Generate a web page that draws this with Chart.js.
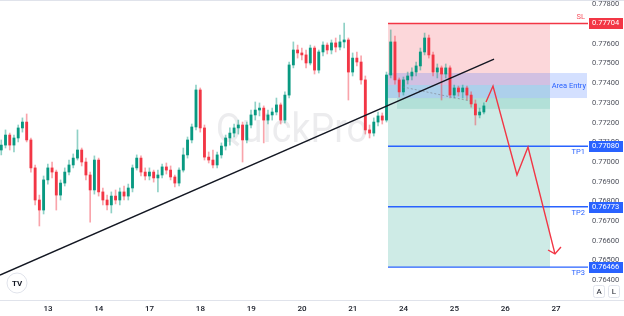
<!DOCTYPE html>
<html>
<head>
<meta charset="utf-8">
<script src="https://cdn.jsdelivr.net/npm/chart.js@4.4.1/dist/chart.umd.min.js"></script>
<style>
  html, body { margin: 0; padding: 0; background: #fff; }
</style>
</head>
<body>
<canvas id="priceChart" width="624" height="316"></canvas>
<script>
// x axis: trading days, one unit per day
const dayLabels = ['13', '14', '17', '18', '19', '20', '21', '24', '25', '26', '27'];
const firstCandleDay = -0.92;
const candlesPerDay = 12;

const opens = [
  0.77061, 0.77086, 0.77137, 0.77086, 0.77122, 0.77173, 0.77203, 0.77112, 0.76970, 0.76807,
  0.76756, 0.76909, 0.76970, 0.76949, 0.76832, 0.76893, 0.76949, 0.76985, 0.77020, 0.77061,
  0.77000, 0.76934, 0.76858, 0.77010, 0.76848, 0.76807, 0.76782, 0.76827, 0.76807, 0.76848,
  0.76827, 0.76868, 0.76970, 0.77020, 0.76949, 0.76929, 0.76949, 0.76919, 0.76934, 0.76975,
  0.76959, 0.76924, 0.76893, 0.76959, 0.77036, 0.77112, 0.77178, 0.77366, 0.77173, 0.77025,
  0.77010, 0.76985, 0.77036, 0.77081, 0.77122, 0.77147, 0.77173, 0.77188, 0.77112, 0.77188,
  0.77239, 0.77264, 0.77274, 0.77213, 0.77239, 0.77254, 0.77290, 0.77213, 0.77340, 0.77493,
  0.77569, 0.77554, 0.77544, 0.77503, 0.77579, 0.77467, 0.77559, 0.77594, 0.77569, 0.77605,
  0.77584, 0.77610, 0.77620, 0.77457, 0.77528, 0.77508, 0.77417, 0.77163, 0.77147, 0.77203,
  0.77234, 0.77213, 0.77442, 0.77610, 0.77417, 0.77356, 0.77417, 0.77437, 0.77457, 0.77488,
  0.77559, 0.77630, 0.77544, 0.77457, 0.77478, 0.77447, 0.77478, 0.77340, 0.77376, 0.77356,
  0.77376, 0.77340, 0.77295, 0.77239, 0.77254
];
const highs = [
  0.77112, 0.77163, 0.77147, 0.77137, 0.77188, 0.77224, 0.77244, 0.77122, 0.76985, 0.76832,
  0.76929, 0.76990, 0.77000, 0.76959, 0.76909, 0.76970, 0.77010, 0.77041, 0.77163, 0.77071,
  0.77020, 0.76949, 0.77031, 0.77020, 0.76868, 0.76832, 0.76848, 0.76858, 0.76868, 0.76878,
  0.76888, 0.76985, 0.77036, 0.77031, 0.76970, 0.76970, 0.76959, 0.76959, 0.76990, 0.76995,
  0.76980, 0.76934, 0.76970, 0.77071, 0.77127, 0.77193, 0.77391, 0.77376, 0.77188, 0.77051,
  0.77061, 0.77051, 0.77097, 0.77137, 0.77173, 0.77193, 0.77213, 0.77203, 0.77203, 0.77264,
  0.77305, 0.77300, 0.77285, 0.77264, 0.77274, 0.77325, 0.77300, 0.77356, 0.77508, 0.77610,
  0.77594, 0.77579, 0.77569, 0.77594, 0.77589, 0.77569, 0.77610, 0.77605, 0.77620, 0.77630,
  0.77645, 0.77706, 0.77630, 0.77554, 0.77559, 0.77539, 0.77437, 0.77188, 0.77224, 0.77254,
  0.77249, 0.77457, 0.77671, 0.77640, 0.77427, 0.77432, 0.77457, 0.77478, 0.77508, 0.77579,
  0.77655, 0.77645, 0.77559, 0.77498, 0.77488, 0.77498, 0.77488, 0.77391, 0.77386, 0.77391,
  0.77386, 0.77356, 0.77315, 0.77274, 0.77300
];
const lows = [
  0.77036, 0.77071, 0.77061, 0.77051, 0.77102, 0.77152, 0.77102, 0.76949, 0.76782, 0.76675,
  0.76736, 0.76888, 0.76919, 0.76756, 0.76807, 0.76878, 0.76934, 0.76970, 0.77010, 0.76980,
  0.76909, 0.76695, 0.76837, 0.76827, 0.76782, 0.76756, 0.76741, 0.76787, 0.76782, 0.76807,
  0.76807, 0.76848, 0.76959, 0.76929, 0.76909, 0.76909, 0.76898, 0.76848, 0.76919, 0.76939,
  0.76909, 0.76873, 0.76878, 0.76949, 0.77020, 0.77097, 0.77163, 0.77152, 0.77010, 0.76995,
  0.76970, 0.76970, 0.77020, 0.77061, 0.77086, 0.77127, 0.77142, 0.77000, 0.77097, 0.77173,
  0.77213, 0.77234, 0.77097, 0.77193, 0.77213, 0.77239, 0.77193, 0.77198, 0.77325, 0.77478,
  0.77528, 0.77518, 0.77478, 0.77493, 0.77447, 0.77452, 0.77539, 0.77549, 0.77549, 0.77559,
  0.77569, 0.77579, 0.77315, 0.77437, 0.77488, 0.77396, 0.77142, 0.77122, 0.77132, 0.77183,
  0.77193, 0.77203, 0.77427, 0.77396, 0.77330, 0.77340, 0.77396, 0.77417, 0.77437, 0.77467,
  0.77544, 0.77528, 0.77437, 0.77427, 0.77315, 0.77427, 0.77325, 0.77325, 0.77335, 0.77325,
  0.77315, 0.77279, 0.77188, 0.77224, 0.77244
];
const closes = [
  0.77086, 0.77137, 0.77086, 0.77122, 0.77173, 0.77203, 0.77112, 0.76970, 0.76807, 0.76756,
  0.76909, 0.76970, 0.76949, 0.76832, 0.76893, 0.76949, 0.76985, 0.77020, 0.77061, 0.77000,
  0.76934, 0.76858, 0.77010, 0.76848, 0.76807, 0.76782, 0.76827, 0.76807, 0.76848, 0.76827,
  0.76868, 0.76970, 0.77020, 0.76949, 0.76929, 0.76949, 0.76919, 0.76934, 0.76975, 0.76959,
  0.76924, 0.76893, 0.76959, 0.77036, 0.77112, 0.77178, 0.77366, 0.77173, 0.77025, 0.77010,
  0.76985, 0.77036, 0.77081, 0.77122, 0.77147, 0.77173, 0.77188, 0.77112, 0.77188, 0.77239,
  0.77264, 0.77274, 0.77213, 0.77239, 0.77254, 0.77290, 0.77213, 0.77340, 0.77493, 0.77569,
  0.77554, 0.77544, 0.77503, 0.77579, 0.77467, 0.77559, 0.77594, 0.77569, 0.77605, 0.77584,
  0.77610, 0.77620, 0.77457, 0.77528, 0.77508, 0.77417, 0.77163, 0.77147, 0.77203, 0.77234,
  0.77213, 0.77442, 0.77610, 0.77417, 0.77356, 0.77417, 0.77437, 0.77457, 0.77488, 0.77559,
  0.77630, 0.77544, 0.77457, 0.77478, 0.77447, 0.77478, 0.77340, 0.77376, 0.77356, 0.77376,
  0.77340, 0.77295, 0.77239, 0.77254, 0.77285
];

const priceTicks = [0.764, 0.765, 0.766, 0.767, 0.768, 0.769, 0.770, 0.771, 0.772, 0.773, 0.774, 0.775, 0.776, 0.777, 0.778];

// position tool
const slPrice = 0.77704;
const entryPrice = 0.77391;
const tpPrices = [0.77080, 0.76773, 0.76466];
const tpNames = ['TP1', 'TP2', 'TP3'];
const zoneDays = [6.693, 9.882];
const entryAreaDays = [6.693, 10.61];
const entryArea = [0.77452, 0.77325];
const entryBandDays = [6.87, 9.882];
const entryBand = [0.77325, 0.77270];

// drawings
const trendDays = [-0.945, 8.78];
const trendPrices = [0.76426, 0.77523];
const arrowDays = [8.622, 8.760, 9.232, 9.449, 9.980];
const arrowPrices = [0.77305, 0.77386, 0.76934, 0.77076, 0.76533];
const arrowHeadDays = [9.843, 9.980, 10.098];
const arrowHeadPrices = [0.76553, 0.76533, 0.76568];
const guideDays = [6.988, 8.307];
const guidePrices = [0.77381, 0.77310];

const upColor = '#089981';
const downColor = '#f23645';
const blue = '#2962ff';
const fontFamily = 'Roboto, "Open Sans", sans-serif';

let candleDays = opens.map((o, i) => firstCandleDay + i / candlesPerDay);
let isUp = i => closes[i] >= opens[i];

function pts(days, prices) {
    return days.map((d, i) => ({x: d, y: prices[i]}));
}

// no extra room for the first/last tick labels
function noPadding(axis) {
    axis.paddingTop = 0;
    axis.paddingBottom = 0;
    axis.paddingLeft = 0;
    axis.paddingRight = 0;
}

let zonePlugin = {
    id: 'zones',
    beforeDatasetsDraw(chart) {
        let {ctx, chartArea: a, scales: {x, y}} = chart;
        ctx.save();
        ctx.beginPath();
        ctx.rect(a.left, a.top, a.width, a.height);
        ctx.clip();

        // watermark
        ctx.fillStyle = 'rgba(120,123,134,0.14)';
        ctx.font = '40px ' + fontFamily;
        ctx.textAlign = 'center';
        ctx.textBaseline = 'alphabetic';
        ctx.fillText('QuickPro', a.left + 292, a.top + 142, 152);

        function box(d0, d1, p0, p1, color) {
            let l = x.getPixelForValue(d0), r = x.getPixelForValue(d1);
            let t = y.getPixelForValue(p0), b = y.getPixelForValue(p1);
            ctx.fillStyle = color;
            ctx.fillRect(l, t, r - l, b - t);
        }
        box(zoneDays[0], zoneDays[1], slPrice, entryPrice, 'rgba(242,54,69,0.2)');
        box(zoneDays[0], zoneDays[1], entryPrice, tpPrices[2], 'rgba(8,153,129,0.2)');
        box(entryBandDays[0], entryBandDays[1], entryBand[0], entryBand[1], 'rgba(8,153,129,0.14)');
        box(entryAreaDays[0], entryAreaDays[1], entryArea[0], entryArea[1], 'rgba(41,98,255,0.2)');
        ctx.restore();
    }
};

let labelPlugin = {
    id: 'labels',
    afterDraw(chart) {
        let {ctx, chartArea: a, scales: {y}} = chart;
        ctx.save();

        // frame lines
        ctx.strokeStyle = '#e0e3eb';
        ctx.lineWidth = 1;
        ctx.beginPath();
        ctx.moveTo(0, a.bottom + 0.5);
        ctx.lineTo(chart.width, a.bottom + 0.5);
        ctx.moveTo(0, 0.5);
        ctx.lineTo(chart.width, 0.5);
        ctx.stroke();

        ctx.font = '7.5px ' + fontFamily;
        ctx.textBaseline = 'middle';

        // names on the lines
        ctx.textAlign = 'right';
        ctx.fillStyle = '#f7525f';
        ctx.fillText('SL', a.right - 3, y.getPixelForValue(slPrice) - 6);
        ctx.fillStyle = blue;
        tpPrices.forEach((p, i) => {
            ctx.fillText(tpNames[i], a.right - 3, y.getPixelForValue(p) + 6);
        });
        ctx.fillText('Area Entry', a.right - 2, y.getPixelForValue((entryArea[0] + entryArea[1]) / 2) + 1);

        // price tags on the axis
        function tag(p, color) {
            let py = Math.round(y.getPixelForValue(p));
            ctx.fillStyle = color;
            ctx.fillRect(a.right + 1, py - 5, 34, 11);
            ctx.fillStyle = '#fff';
            ctx.textAlign = 'left';
            ctx.fillText(p.toFixed(5), a.right + 4, py + 0.5);
        }
        tag(slPrice, downColor);
        tpPrices.forEach(p => tag(p, blue));

        // A / L buttons
        ctx.textAlign = 'center';
        [['A', 593], ['L', 608]].forEach(([t, bx]) => {
            ctx.strokeStyle = '#e0e3eb';
            ctx.fillStyle = '#fff';
            ctx.beginPath();
            ctx.roundRect(bx + 0.5, 285.5, 11, 12, 2);
            ctx.fill();
            ctx.stroke();
            ctx.fillStyle = '#131722';
            ctx.font = '8px ' + fontFamily;
            ctx.fillText(t, bx + 6, 292);
        });

        // tradingview logo
        ctx.beginPath();
        ctx.arc(17, 283, 10, 0, Math.PI * 2);
        ctx.fillStyle = '#fff';
        ctx.fill();
        ctx.strokeStyle = '#e0e3eb';
        ctx.stroke();
        ctx.fillStyle = '#131722';
        ctx.font = 'bold 8px ' + fontFamily;
        ctx.fillText('TV', 17, 283.5);
        ctx.restore();
    }
};

let chart = new Chart(document.getElementById('priceChart').getContext('2d'), {
    type: 'bar',
    data: {
        datasets: [
            {
                type: 'line',
                data: pts(trendDays, trendPrices),
                borderColor: '#131722',
                borderWidth: 1.4,
                pointRadius: 0
            },
            {
                type: 'line',
                data: pts(arrowDays, arrowPrices),
                borderColor: '#f23645',
                borderWidth: 1.4,
                pointRadius: 0
            },
            {
                type: 'line',
                data: pts(arrowHeadDays, arrowHeadPrices),
                borderColor: '#f23645',
                borderWidth: 1.4,
                pointRadius: 0
            },
            {
                type: 'line',
                data: pts([zoneDays[0], 10.63], [slPrice, slPrice]),
                borderColor: '#f23645',
                borderWidth: 1.6,
                pointRadius: 0
            },
            ...tpPrices.map(p => ({
                type: 'line',
                data: pts([zoneDays[0], 10.63], [p, p]),
                borderColor: blue,
                borderWidth: 1.4,
                pointRadius: 0
            })),
            {
                type: 'line',
                data: pts(guideDays, guidePrices),
                borderColor: 'rgba(120,123,134,0.6)',
                borderWidth: 1,
                borderDash: [2, 2],
                pointRadius: 0
            },
            {
                // candle bodies
                data: candleDays.map((d, i) => ({x: d, y: [opens[i], closes[i]]})),
                backgroundColor: ctx => isUp(ctx.dataIndex) ? upColor : downColor,
                barThickness: 2.2,
                minBarLength: 1,
                grouped: false
            },
            {
                // wicks
                data: candleDays.map((d, i) => ({x: d, y: [lows[i], highs[i]]})),
                backgroundColor: ctx => isUp(ctx.dataIndex) ? 'rgba(8,153,129,0.45)' : 'rgba(242,54,69,0.45)',
                barThickness: 1,
                grouped: false
            }
        ]
    },
    options: {
        responsive: false,
        animation: false,
        layout: {padding: 0},
        plugins: {
            legend: {display: false},
            tooltip: {enabled: false}
        },
        scales: {
            x: {
                type: 'linear',
                offset: false,
                min: -0.945,
                max: 10.63,
                grid: {display: false, drawTicks: false},
                border: {display: false},
                afterBuildTicks: axis => { axis.ticks = dayLabels.map((l, i) => ({value: i})); },
                afterFit: axis => { axis.height = 16; noPadding(axis); },
                ticks: {
                    autoSkip: false,
                    maxRotation: 0,
                    padding: 4,
                    color: '#131722',
                    font: {family: fontFamily, size: 8, weight: '500'},
                    callback: v => dayLabels[v]
                }
            },
            y: {
                position: 'right',
                min: 0.76299,
                max: 0.77823,
                grid: {display: false, drawTicks: false},
                border: {display: false},
                afterBuildTicks: axis => { axis.ticks = priceTicks.map(v => ({value: v})); },
                afterFit: axis => { axis.width = 36; noPadding(axis); },
                ticks: {
                    padding: 4,
                    color: '#50535e',
                    font: {family: fontFamily, size: 7.5},
                    callback: v => v.toFixed(5)
                }
            }
        }
    },
    plugins: [zonePlugin, labelPlugin]
});
</script>
</body>
</html>
